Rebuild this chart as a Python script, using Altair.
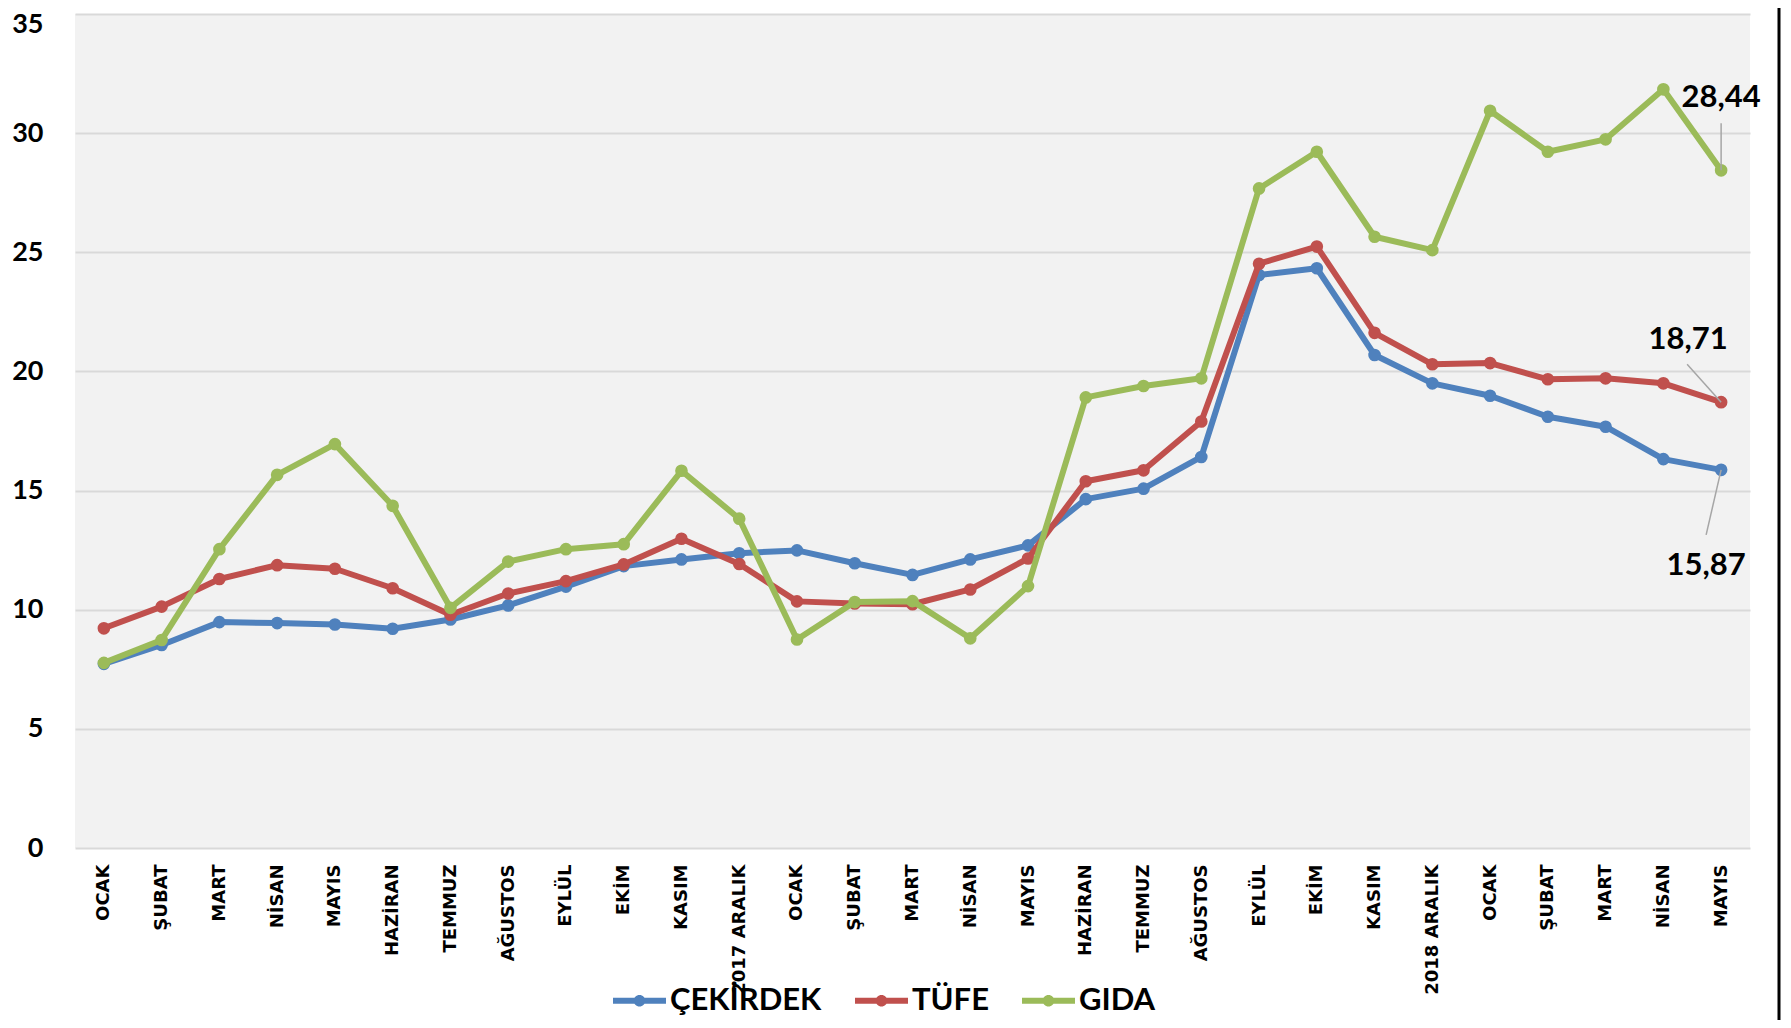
import altair as alt
import pandas as pd

months = ["OCAK", "ŞUBAT", "MART", "NİSAN", "MAYIS", "HAZİRAN", "TEMMUZ", "AĞUSTOS",
          "EYLÜL", "EKİM", "KASIM", "2017 ARALIK",
          "OCAK", "ŞUBAT", "MART", "NİSAN", "MAYIS", "HAZİRAN", "TEMMUZ", "AĞUSTOS",
          "EYLÜL", "EKİM", "KASIM", "2018 ARALIK",
          "OCAK", "ŞUBAT", "MART", "NİSAN", "MAYIS"]

cekirdek = [7.73, 8.52, 9.48, 9.44, 9.38, 9.20, 9.59, 10.18, 10.97, 11.83, 12.11, 12.37,
            12.49, 11.95, 11.46, 12.11, 12.70, 14.64, 15.08, 16.41, 24.05, 24.33, 20.69, 19.50,
            18.98, 18.10, 17.68, 16.32, 15.87]
tufe = [9.22, 10.13, 11.29, 11.87, 11.72, 10.90, 9.79, 10.68, 11.20, 11.90, 12.98, 11.92,
        10.35, 10.26, 10.23, 10.85, 12.15, 15.39, 15.85, 17.90, 24.52, 25.24, 21.62, 20.30,
        20.35, 19.67, 19.71, 19.50, 18.71]
gida = [7.77, 8.73, 12.54, 15.66, 16.95, 14.36, 10.08, 12.02, 12.54, 12.75, 15.83, 13.82,
        8.75, 10.32, 10.36, 8.80, 10.99, 18.91, 19.39, 19.71, 27.68, 29.22, 25.65, 25.09,
        30.94, 29.22, 29.74, 31.84, 28.44]

series_names = ["ÇEKİRDEK", "TÜFE", "GIDA"]
series_colors = ["#4F81BD", "#C0504D", "#9BBB59"]
y_ticks = [0, 5, 10, 15, 20, 25, 30, 35]

rows = []
for name, vals in zip(series_names, [cekirdek, tufe, gida]):
    for i, v in enumerate(vals):
        rows.append({"series": name, "idx": i, "value": v})
df = pd.DataFrame(rows)
last_idx = len(months) - 1

W, H = 1675, 834

label_expr = "[" + ",".join("'" + m + "'" for m in months) + "][datum.value]"

color_scale = alt.Scale(domain=series_names, range=series_colors)

x_enc = alt.X("idx:O", scale=alt.Scale(type="point", padding=0.5),
              axis=alt.Axis(title=None, labelExpr=label_expr, labelAngle=270,
                            labelAlign="right", labelBaseline="middle",
                            labelFont="DejaVu Sans", labelFontWeight="bold",
                            labelFontSize=18, labelColor="#000000",
                            labelPadding=16, ticks=False, domain=False, grid=False,
                            labelOverlap=False, labelLimit=400))
y_enc = alt.Y("value:Q", scale=alt.Scale(domain=[0, 35], nice=False, zero=True),
              axis=alt.Axis(title=None, values=y_ticks, labelFont="Lato",
                            labelFontWeight="bold", labelFontSize=27,
                            labelColor="#000000", labelPadding=32, ticks=False,
                            labelOffset={"expr": "datum.value == 35 ? 10 : 0"},
                            domain=False, grid=True, gridColor="#D9D9D9",
                            gridWidth=2))

legend_path = ("M-1,-0.11L1,-0.11L1,0.11L-1,0.11Z "
               "M-0.22,0A0.22,0.22,0,1,1,0.22,0A0.22,0.22,0,1,1,-0.22,0Z")

legend = alt.Legend(title=None, orient="none", direction="horizontal",
                    legendX=538, legendY=960, symbolType=legend_path,
                    symbolSize=2809, symbolStrokeWidth=0,
                    symbolOpacity=1, labelFont="Lato",
                    labelFontWeight="bold", labelFontSize=31,
                    labelColor="#000000", labelLimit=400,
                    labelOffset=4, columnPadding=33, padding=0)

layers = []
for s, c in zip(series_names, series_colors):
    sub = df[df.series == s]
    line = alt.Chart(sub).mark_line(strokeWidth=6, strokeJoin="round", color=c).encode(
        x=x_enc, y=y_enc)
    pts = alt.Chart(sub).mark_point(filled=True, size=160, opacity=1).encode(
        x=x_enc, y=y_enc,
        color=alt.Color("series:N", scale=color_scale, legend=legend))
    layers += [line, pts]

# annotations for the last values
annot = {
    "GIDA": {"dx": 0, "dy": -72, "r": (0, -47, 0, 0)},
    "TÜFE": {"dx": -33, "dy": -62, "r": (-34, -38, 0, 0)},
    "ÇEKİRDEK": {"dx": -15, "dy": 96, "r": (0, 0, -15, 65)},
}
last_df = df[df.idx == last_idx]
for s in series_names:
    a = annot[s]
    base = alt.Chart(last_df[last_df.series == s]).transform_calculate(
        txt="replace(format(datum.value, '.2f'), '.', ',')")
    xo, yo, x2o, y2o = a["r"]
    rule = base.mark_rule(color="#A6A6A6", strokeWidth=1.5, xOffset=xo, yOffset=yo,
                          x2Offset=x2o, y2Offset=y2o).encode(
        x=x_enc, y=y_enc, x2=alt.X2("idx:O"), y2=alt.Y2("value:Q"))
    txt = base.mark_text(font="Lato", fontWeight="bold", fontSize=31, color="#000000",
                         align="center", baseline="middle", dx=a["dx"], dy=a["dy"]).encode(
        x=x_enc, y=y_enc, text="txt:N")
    layers += [rule, txt]

border = alt.Chart(pd.DataFrame({"k": [0]})).mark_rule(color="#000000", strokeWidth=3).encode(
    x=alt.value(W + 29), y=alt.value(-6), y2=alt.value(H + 172))
layers.append(border)

chart = alt.layer(*layers).properties(
    width=W, height=H,
    padding={"left": 67, "top": 6, "right": 31, "bottom": 172},
    autosize=alt.AutoSizeParams(type="none"),
    background="#FFFFFF",
).configure_view(fill="#F2F2F2", stroke=None)

chart.save("out.html", embed_options={"renderer": "svg", "actions": False})
